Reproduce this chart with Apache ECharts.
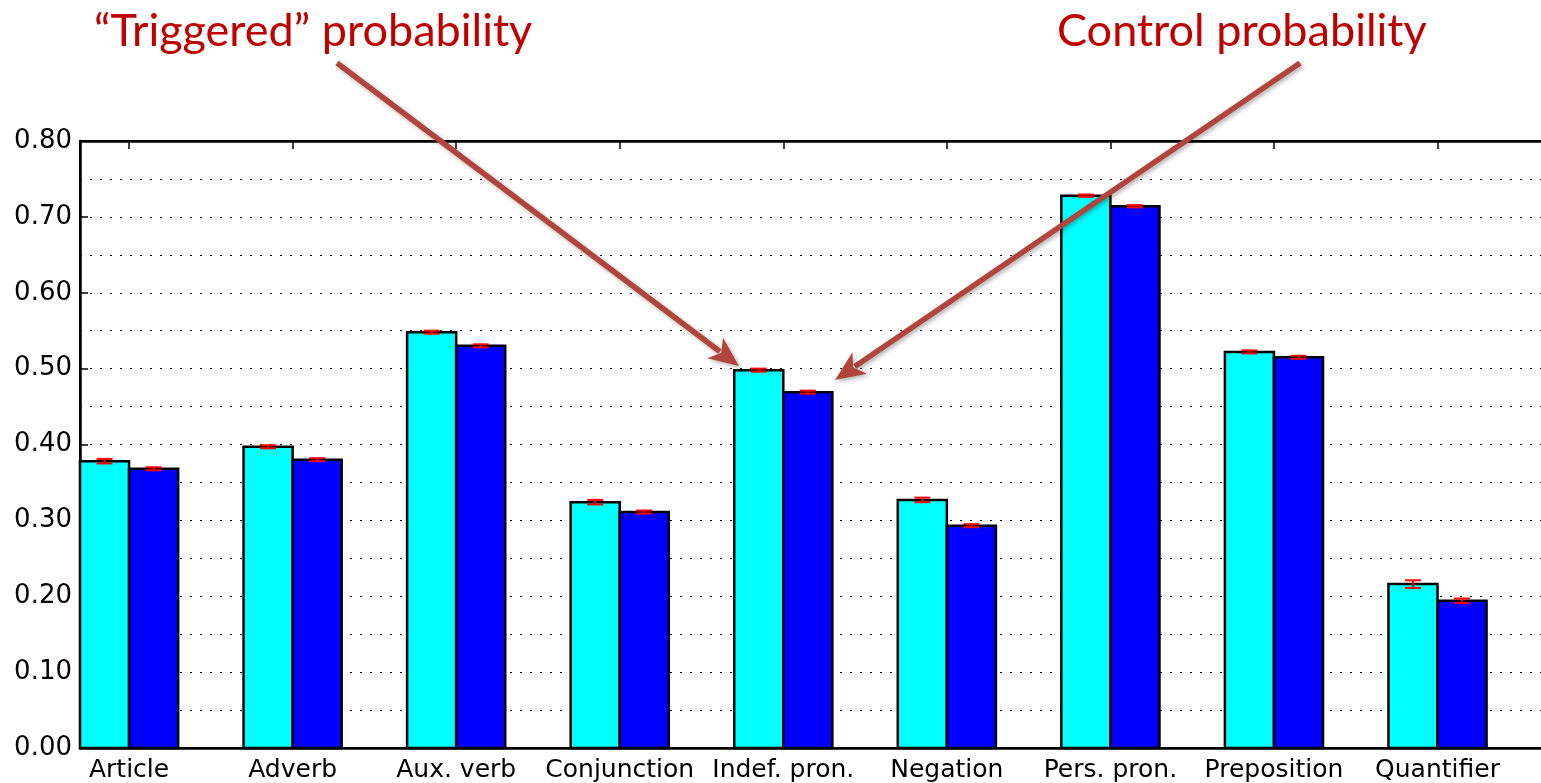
<!DOCTYPE html>
<html><head><meta charset="utf-8">
<script src="https://cdn.jsdelivr.net/npm/echarts@6/dist/echarts.min.js"></script>
<style>html,body{margin:0;padding:0;background:#fff;overflow:hidden}#c{width:1541px;height:783px}</style>
</head><body><div id="c"></div>
<script>
const categories = ['Article','Adverb','Aux. verb','Conjunction','Indef. pron.','Negation','Pers. pron.','Preposition','Quantifier'];
const triggered = [0.378, 0.397, 0.548, 0.324, 0.498, 0.327, 0.728, 0.522, 0.216];
const triggeredErr = [0.003, 0.002, 0.002, 0.003, 0.002, 0.003, 0.0015, 0.002, 0.005];
const control = [0.368, 0.380, 0.530, 0.311, 0.469, 0.293, 0.714, 0.515, 0.194];
const controlErr = [0.002, 0.002, 0.002, 0.002, 0.002, 0.002, 0.0015, 0.002, 0.003];

const chart = echarts.init(document.getElementById('c'));
const idx = categories.map((_, i) => i);

function makeRender(off, color) {
  return function (params, api) {
    const i = api.value(0), v = api.value(1), e = api.value(2);
    const p0 = api.coord([i + off, v]);
    const p1 = api.coord([i + off + 0.3, 0]);
    const cx = api.coord([i + off + 0.15, v])[0];
    const yT = api.coord([i, v + e])[1];
    const yB = api.coord([i, v - e])[1];
    const cap = 8;
    const red = {stroke: '#ff0000', lineWidth: 2};
    return {
      type: 'group',
      children: [
        {type: 'rect', shape: {x: p0[0], y: p0[1], width: p1[0] - p0[0], height: p1[1] - p0[1]},
         style: {fill: color, stroke: '#000', lineWidth: 2.5}},
        {type: 'line', shape: {x1: cx, y1: yT, x2: cx, y2: yB}, style: red},
        {type: 'line', shape: {x1: cx - cap, y1: yT, x2: cx + cap, y2: yT}, style: red},
        {type: 'line', shape: {x1: cx - cap, y1: yB, x2: cx + cap, y2: yB}, style: red}
      ]
    };
  };
}

function arrow(x1, y1, x2, y2) {
  const ang = Math.atan2(y2 - y1, x2 - x1);
  const L = 30, W = 13;
  const c = Math.cos(ang), s = Math.sin(ang);
  const bx = x2 - L * c, by = y2 - L * s;
  const nx = -s, ny = c;
  const col = '#b2453b';
  const sh = {shadowBlur: 4, shadowColor: 'rgba(0,0,0,0.3)', shadowOffsetX: 2, shadowOffsetY: 2};
  return [
    {type: 'line', z: 100, shape: {x1: x1, y1: y1, x2: bx + 6 * c, y2: by + 6 * s},
     style: Object.assign({stroke: col, lineWidth: 5.5}, sh)},
    {type: 'polygon', z: 100, shape: {points: [[x2, y2], [bx + nx * W, by + ny * W], [bx + 8 * c, by + 8 * s], [bx - nx * W, by - ny * W]]},
     style: Object.assign({fill: col}, sh)}
  ];
}

const dotted = {color: '#000', width: 1, type: [2, 8]};
const tickStyle = {color: '#000', width: 1.5};

chart.setOption({
  animation: false,
  grid: {left: 80, top: 141, width: 1472, bottom: 35, outerBoundsMode: 'none', containLabel: false,
         show: true, borderColor: '#000', borderWidth: 2, backgroundColor: 'transparent'},
  xAxis: [
    {type: 'value', min: -0.3, max: 8.7, position: 'bottom',
     axisLine: {show: true, onZero: false, lineStyle: {color: '#000', width: 2.5}},
     axisTick: {show: true, inside: true, length: 8, customValues: idx, lineStyle: tickStyle},
     axisLabel: {show: true, customValues: idx, formatter: v => categories[Math.round(v)], color: '#000', fontSize: 25, fontFamily: 'DejaVu Sans', margin: 10},
     splitLine: {show: false}},
    {type: 'value', min: -0.3, max: 8.7, position: 'top',
     axisLine: {show: true, onZero: false, lineStyle: {color: '#000', width: 2.5}},
     axisTick: {show: true, inside: true, length: 8, customValues: idx, lineStyle: tickStyle},
     axisLabel: {show: false}, splitLine: {show: false}}
  ],
  yAxis: [{
    type: 'value', min: 0, max: 0.8, interval: 0.1,
    axisLine: {show: true, onZero: false, lineStyle: {color: '#000', width: 2.5}},
    axisTick: {show: true, inside: true, length: 8, lineStyle: tickStyle},
    axisLabel: {formatter: v => v.toFixed(2), color: '#000', fontSize: 26, fontFamily: 'DejaVu Sans', margin: 8},
    splitLine: {show: true, lineStyle: dotted},
    minorTick: {show: false, splitNumber: 2},
    minorSplitLine: {show: true, lineStyle: dotted}
  }],
  series: [
    {type: 'custom', name: 'Triggered', xAxisIndex: 0, renderItem: makeRender(-0.3, '#00ffff'),
     data: idx.map(i => [i, triggered[i], triggeredErr[i]]), z: 5},
    {type: 'custom', name: 'Control', xAxisIndex: 0, renderItem: makeRender(0, '#0000ff'),
     data: idx.map(i => [i, control[i], controlErr[i]]), z: 5}
  ],
  graphic: [
    {type: 'text', z: 100, left: 94, top: 9, style: {text: '\u201CTriggered\u201D probability', fill: '#c00000', font: '45px Lato'}},
    {type: 'text', z: 100, left: 1057, top: 9, style: {text: 'Control probability', fill: '#c00000', font: '45px Lato'}},
    ...arrow(337, 63, 739, 366),
    ...arrow(1300, 63, 835, 380)
  ]
});
</script></body></html>
